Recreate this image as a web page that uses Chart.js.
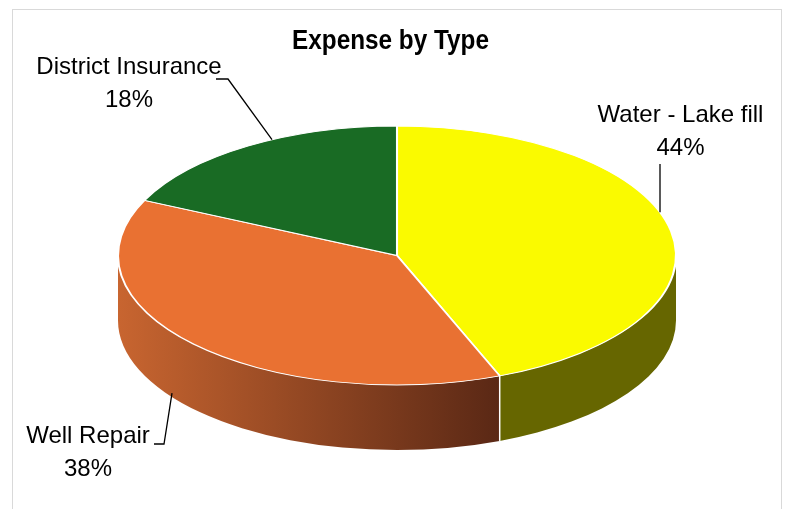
<!DOCTYPE html>
<html>
<head>
<meta charset="utf-8">
<script src="https://cdn.jsdelivr.net/npm/chart.js@4"></script>
<style>
  html, body { margin: 0; padding: 0; background: #ffffff; }
  #wrap { position: relative; width: 788px; height: 509px; overflow: hidden; }
  #frame { position: absolute; left: 12px; top: 9px; width: 770px; height: 600px;
           border: 1px solid #D9D9D9; box-sizing: border-box; }
  canvas { position: absolute; left: 0; top: 0; }
</style>
</head>
<body>
<div id="wrap"><div id="frame"></div><canvas id="c" width="788" height="509"></canvas></div>
<script>
// ---- data ----
const chartTitle = 'Expense by Type';
const categories = ['Water - Lake fill', 'Well Repair', 'District Insurance'];
const shares = [44, 38, 18];

// ---- styles ----
const topColors = ['#FAFA00', '#E97132', '#196B24'];
const sideColors = ['#666600', ['#C86530', '#5A2815'], '#0F4418'];
const DEPTH = 65;
const labelFont = '24px "Liberation Sans", Arial, sans-serif';
const titleFont = 'bold 28px "Liberation Sans", Arial, sans-serif';
const labelLayout = [
  { x: 680.5, y: 122, leader: [[660, 164]], target: { x: 660, face: 'top', inset: 0 } },
  { x: 88, y: 443, leader: [[154, 444], [164, 444]], target: { x: 172, face: 'bottom', inset: 4 } },
  { x: 129, y: 74, leader: [[216, 79], [228, 79]], target: { x: 272, face: 'top', inset: 0 } }
];
const LINE_GAP = 33;

function geom(chart) {
  const a = chart.chartArea;
  const rx = a.width / 2;
  const ry = (a.height - DEPTH) / 2;
  return { cx: (a.left + a.right) / 2, cy: a.top + ry, rx: rx, ry: ry, depth: DEPTH };
}

const pie3d = {
  id: 'pie3d',
  beforeDatasetsDraw(chart) {
    const ctx = chart.ctx;
    const g = geom(chart);
    const els = chart.getDatasetMeta(0).data;
    const TWO_PI = Math.PI * 2;
    // side walls (front half only)
    els.forEach((el, i) => {
      const p = el.getProps(['startAngle', 'endAngle'], true);
      for (let k = -1; k <= 1; k++) {
        const lo = TWO_PI * k, hi = lo + Math.PI;
        const s = Math.max(p.startAngle, lo), e = Math.min(p.endAngle, hi);
        if (e <= s) continue;
        let fill = sideColors[i];
        if (Array.isArray(fill)) {
          const xs = [g.cx + g.rx * Math.cos(s), g.cx + g.rx * Math.cos(e)];
          // include leftmost point if range covers PI
          if (s <= lo + Math.PI && e >= lo + Math.PI) xs.push(g.cx - g.rx);
          if (s <= lo && e >= lo) xs.push(g.cx + g.rx);
          const x0 = Math.min.apply(null, xs), x1 = Math.max.apply(null, xs);
          const grad = ctx.createLinearGradient(x0, 0, x1, 0);
          grad.addColorStop(0, fill[0]);
          grad.addColorStop(1, fill[1]);
          fill = grad;
        }
        ctx.save();
        ctx.fillStyle = fill;
        ctx.beginPath();
        ctx.ellipse(g.cx, g.cy, g.rx, g.ry, 0, s, e, false);
        ctx.ellipse(g.cx, g.cy + g.depth, g.rx, g.ry, 0, e, s, true);
        ctx.closePath();
        ctx.fill();
        ctx.restore();
      }
    });
    // white separators on the wall
    ctx.save();
    ctx.strokeStyle = '#FFFFFF';
    ctx.lineWidth = 1.5;
    els.forEach((el) => {
      let b = el.getProps(['startAngle'], true).startAngle;
      b = ((b % TWO_PI) + TWO_PI) % TWO_PI;
      if (b > 0.001 && b < Math.PI - 0.001) {
        const x = g.cx + g.rx * Math.cos(b), y = g.cy + g.ry * Math.sin(b);
        ctx.beginPath();
        ctx.moveTo(x, y);
        ctx.lineTo(x, y + g.depth);
        ctx.stroke();
      }
    });
    ctx.restore();
    // flatten the pie top into the tilted ellipse
    const p0 = els[0].getProps(['x', 'y', 'outerRadius'], true);
    ctx.save();
    ctx.translate(g.cx, g.cy);
    ctx.scale(g.rx / p0.outerRadius, g.ry / p0.outerRadius);
    ctx.translate(-p0.x, -p0.y);
  },
  afterDatasetsDraw(chart) {
    const ctx = chart.ctx;
    ctx.restore();
    const g = geom(chart);
    const data = chart.data.datasets[0].data;
    const total = data.reduce((a, b) => a + b, 0);
    // title
    ctx.save();
    ctx.fillStyle = '#000000';
    ctx.font = titleFont;
    ctx.textAlign = 'center';
    ctx.textBaseline = 'alphabetic';
    ctx.fillText(chartTitle, 390.5, 49, 197);
    // labels + leaders
    ctx.font = labelFont;
    chart.data.labels.forEach((lab, i) => {
      const L = labelLayout[i];
      const pct = Math.round(data[i] / total * 100) + '%';
      ctx.fillStyle = '#000000';
      ctx.fillText(lab, L.x, L.y);
      ctx.fillText(pct, L.x, L.y + LINE_GAP);
      const t = L.target;
      const u = (t.x - g.cx) / g.rx;
      const h = g.ry * Math.sqrt(Math.max(0, 1 - u * u));
      const ty = t.face === 'top' ? g.cy - h + t.inset : g.cy + g.depth + h - t.inset;
      ctx.strokeStyle = '#000000';
      ctx.lineWidth = 1.3;
      ctx.beginPath();
      L.leader.forEach((pt, j) => { if (j === 0) ctx.moveTo(pt[0], pt[1]); else ctx.lineTo(pt[0], pt[1]); });
      ctx.lineTo(t.x, ty);
      ctx.stroke();
    });
    ctx.restore();
  }
};

new Chart(document.getElementById('c'), {
  type: 'pie',
  data: {
    labels: categories,
    datasets: [{
      data: shares,
      backgroundColor: topColors,
      borderColor: '#FFFFFF',
      borderWidth: 1.2,
      clip: false
    }]
  },
  options: {
    responsive: false,
    animation: false,
    devicePixelRatio: 1,
    events: [],
    layout: { padding: { left: 118, right: 112, top: 126, bottom: 59 } },
    plugins: {
      legend: { display: false },
      tooltip: { enabled: false },
      title: { display: false }
    }
  },
  plugins: [pie3d]
});
</script>
</body>
</html>
